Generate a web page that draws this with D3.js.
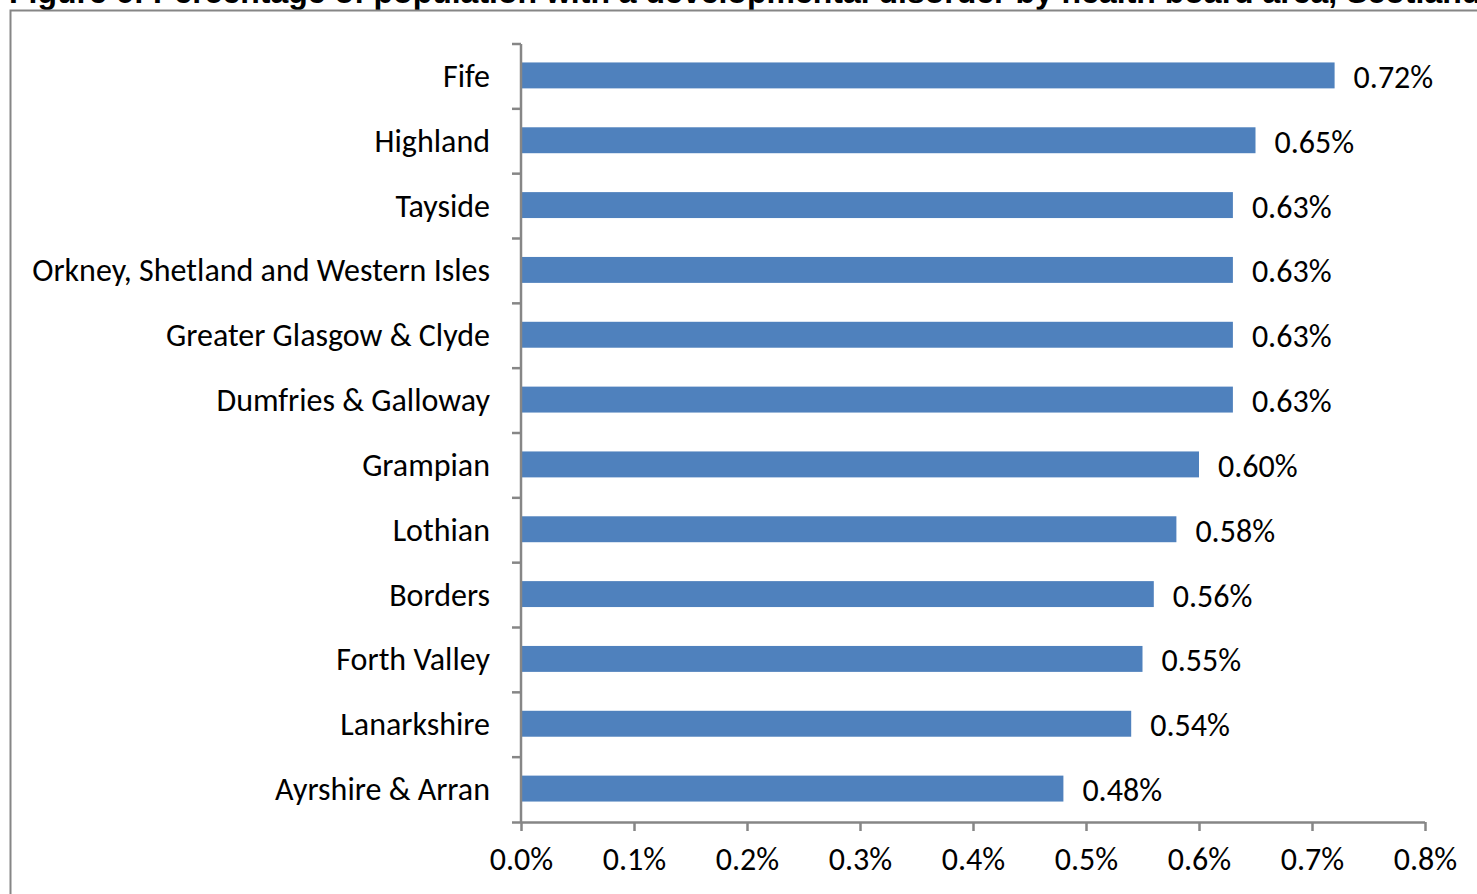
<!DOCTYPE html>
<html>
<head>
<meta charset="utf-8">
<script src="https://cdn.jsdelivr.net/npm/d3@7"></script>
<style>
  body { margin: 0; background: #fff; }
  svg { display: block; }
</style>
</head>
<body>
<script>
// health board areas, top to bottom as drawn
const boards = [
  "Fife", "Highland", "Tayside", "Orkney, Shetland and Western Isles",
  "Greater Glasgow & Clyde", "Dumfries & Galloway", "Grampian", "Lothian",
  "Borders", "Forth Valley", "Lanarkshire", "Ayrshire & Arran"
];
// percentage of population with a developmental disorder
const pct = [0.72, 0.65, 0.63, 0.63, 0.63, 0.63, 0.60, 0.58, 0.56, 0.55, 0.54, 0.48];
const xTicks = [0, 0.1, 0.2, 0.3, 0.4, 0.5, 0.6, 0.7, 0.8];
const title = "Figure 6: Percentage of population with a developmental disorder by health board area, Scotland";

const width = 1477, height = 894;
const plot = { left: 521, right: 1425, top: 44, bottom: 822 };
const labelFont = "Carlito, Lato, sans-serif";
const labelSize = "32px";
const axisColor = "#868686";

const svg = d3.select("body").append("svg")
  .attr("width", width)
  .attr("height", height);

// title, clipped by the top of the page
svg.append("text")
  .attr("x", 9)
  .attr("y", 3)
  .style("font", "bold 32px 'Liberation Sans', Arial, sans-serif")
  .text(title);

// chart frame
svg.append("path")
  .attr("d", `M10.5,${height} V10.5 H${width}`)
  .attr("fill", "none")
  .attr("stroke", axisColor)
  .attr("stroke-width", 2);

const x = d3.scaleLinear().domain([0, 0.8]).range([plot.left, plot.right]);
const y = d3.scaleBand().domain(boards).range([plot.top, plot.bottom]).paddingInner(0.6).paddingOuter(0.3);
const yEdges = d3.scaleLinear().domain([0, boards.length]).range([plot.top, plot.bottom]);

const data = boards.map((b, i) => ({ board: b, value: pct[i] }));

// bars
svg.append("g")
  .selectAll("rect")
  .data(data)
  .join("rect")
  .attr("x", x(0) + 1)
  .attr("y", d => y(d.board) - 1)
  .attr("width", d => x(d.value) - x(0) - 1)
  .attr("height", y.bandwidth())
  .attr("fill", "#4f81bd");

// value labels
svg.append("g")
  .selectAll("text")
  .data(data)
  .join("text")
  .attr("x", d => x(d.value) + 19)
  .attr("y", d => y(d.board) + y.bandwidth() / 2)
  .attr("dy", "0.36em")
  .style("font-family", labelFont)
  .style("font-size", labelSize)
  .attr("fill", "#000")
  .text(d => d.value.toFixed(2) + "%");

// category labels
svg.append("g")
  .selectAll("text")
  .data(data)
  .join("text")
  .attr("x", plot.left - 31)
  .attr("y", d => y(d.board) + y.bandwidth() / 2 - 1)
  .attr("dy", "0.36em")
  .attr("text-anchor", "end")
  .style("font-family", labelFont)
  .style("font-size", labelSize)
  .attr("fill", "#000")
  .text(d => d.board);

// y axis line and ticks between categories
const yAxis = svg.append("g")
  .attr("stroke", axisColor)
  .attr("stroke-width", 2.5);
yAxis.append("line")
  .attr("x1", plot.left).attr("x2", plot.left)
  .attr("y1", plot.top).attr("y2", plot.bottom);
yAxis.selectAll("line.tick")
  .data(d3.range(boards.length))
  .join("line")
  .attr("class", "tick")
  .attr("x1", plot.left - 9).attr("x2", plot.left)
  .attr("y1", d => yEdges(d)).attr("y2", d => yEdges(d));

// x axis
const xAxis = svg.append("g")
  .attr("transform", `translate(0,${plot.bottom})`)
  .call(d3.axisBottom(x).tickValues(xTicks).tickSize(9).tickPadding(16)
    .tickFormat(d => d.toFixed(1) + "%"));
xAxis.select(".domain")
  .attr("d", `M${plot.left - 9},0.5H${plot.right}`)
  .attr("stroke", axisColor)
  .attr("stroke-width", 2.5);
xAxis.selectAll(".tick line")
  .attr("stroke", axisColor)
  .attr("stroke-width", 2.5);
xAxis.selectAll(".tick text")
  .style("font-family", labelFont)
  .style("font-size", labelSize)
  .attr("fill", "#000");
</script>
</body>
</html>
